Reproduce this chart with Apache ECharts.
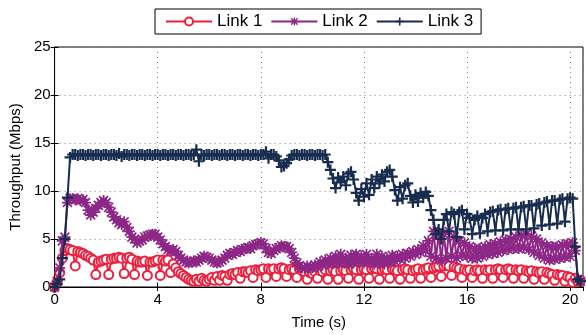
<!DOCTYPE html>
<html>
<head>
<meta charset="utf-8">
<script src="https://cdn.jsdelivr.net/npm/echarts@6/dist/echarts.min.js"></script>
<style>html,body{margin:0;padding:0;background:#fff}#c{width:586px;height:335px}</style>
</head>
<body>
<div id="c"></div>
<script>
// sampling interval of the trace (s)
const sampleStep = 0.1;
const seriesNames = ['Link 1', 'Link 2', 'Link 3'];
const xTicks = [0, 4, 8, 12, 16, 20];
const yTicks = [0, 5, 10, 15, 20, 25];

const link1 = [
0,0.5,1.5,3.0,3.8,4.0,3.9,3.8,2.2,3.7,
3.6,3.5,3.3,3.2,3.0,2.8,1.3,2.6,2.7,2.8,
2.9,1.3,2.9,3.0,3.0,3.1,3.0,1.4,3.0,3.1,
2.9,1.3,2.7,2.6,2.6,2.7,1.2,2.6,2.6,2.7,
2.8,1.2,2.8,2.7,2.8,1.5,2.4,2.0,1.6,1.4,
1.2,1.0,0.8,0.7,0.6,0.8,0.6,0.9,0.7,0.6,
0.8,1.0,0.7,1.1,0.7,1.2,1.1,0.7,1.3,1.4,
1.3,1.5,0.9,1.6,1.6,1.5,1.7,1.0,1.8,1.7,
1.8,1.9,1.0,1.9,1.8,1.9,1.1,1.9,2.0,1.9,
1.1,1.8,1.9,1.8,1.0,1.9,1.7,1.6,0.8,1.5,
1.4,1.6,0.9,1.7,1.6,1.8,0.8,1.7,1.8,1.6,
0.8,1.7,1.8,1.7,0.9,1.8,1.9,1.8,0.8,1.8,
1.9,1.8,0.9,1.9,2.0,1.9,0.8,1.8,1.9,1.8,
0.9,1.9,1.8,1.7,0.8,1.8,1.9,1.8,0.9,1.7,
1.8,1.9,0.9,1.8,1.9,2.0,1.0,2.0,2.1,2.2,
1.1,2.2,2.3,2.2,1.2,2.1,2.0,1.9,1.0,1.8,
1.7,1.8,1.0,1.7,1.8,1.7,0.9,1.8,1.7,1.8,
0.9,1.8,1.9,1.8,1.0,1.8,1.9,1.8,0.9,1.8,
1.7,1.8,0.9,1.7,1.6,1.7,0.8,1.6,1.5,1.6,
0.8,1.5,1.4,1.3,0.7,1.3,1.2,1.2,0.6,1.1,
1.0,0.5,0.9,0.6,0.7
];

const link2 = [
0,0.6,2.0,4.8,5.2,8.8,9.2,9.2,9.1,9.2,
9.0,9.1,8.8,8.0,7.5,7.8,8.2,8.5,8.8,9.0,
8.8,8.3,7.8,7.3,7.0,6.7,6.5,6.8,6.2,5.8,
5.2,5.0,4.6,4.8,4.9,5.2,5.3,5.4,5.5,5.5,
5.2,4.9,4.5,4.2,3.9,3.8,3.9,3.7,3.3,3.0,
2.8,2.6,2.5,2.6,2.7,2.6,2.8,3.0,3.2,3.1,
3.0,2.8,2.6,2.5,2.6,2.8,3.0,3.3,3.5,3.4,
3.6,3.8,3.7,3.9,4.0,4.1,4.0,4.3,4.4,4.5,
4.6,4.5,4.0,3.6,3.5,3.8,4.0,4.1,4.3,4.2,
4.2,4.0,3.6,3.0,2.5,2.2,2.0,1.9,2.2,2.0,
2.0,2.3,2.1,2.6,2.3,2.8,2.4,3.0,2.5,3.2,
2.5,3.4,2.6,3.0,2.4,3.3,2.5,3.4,2.6,3.2,
2.5,3.4,2.6,3.0,2.4,3.4,2.5,3.2,2.4,3.0,
2.6,3.3,2.7,3.2,2.9,3.4,3.0,3.5,3.2,3.7,
3.4,3.9,3.6,4.3,3.8,4.8,3.2,5.8,3.0,5.6,
2.8,5.5,3.0,5.8,3.2,5.2,3.0,4.8,3.3,4.6,
3.2,4.2,3.0,4.0,3.0,4.0,3.2,4.2,3.4,4.4,
3.5,4.5,3.6,4.7,3.8,4.9,3.9,5.0,4.0,5.2,
4.0,5.4,4.1,5.5,3.9,5.3,3.6,5.0,3.3,4.6,
3.0,4.3,2.8,4.2,2.9,4.2,3.0,4.4,3.1,4.5,
3.2,4.6,3.8,0.8,0.6
];

const link3 = [
0,0.3,0.8,3.0,5.0,9.3,13.5,13.8,13.8,13.7,
13.8,13.8,13.7,13.8,13.8,13.7,13.8,13.8,13.7,13.8,
13.8,13.7,13.8,13.8,13.7,13.9,13.6,13.8,13.8,13.7,
13.8,13.8,13.7,13.8,13.8,13.7,13.8,13.8,13.7,13.8,
13.8,13.7,13.8,13.8,13.7,13.8,13.8,13.7,13.8,13.8,
13.7,13.8,13.8,13.7,13.8,14.3,13.1,13.8,13.7,13.8,
13.8,13.7,13.8,13.8,13.7,13.8,13.8,13.7,13.8,13.8,
13.7,13.8,13.8,13.7,13.8,13.8,13.7,13.8,13.8,13.7,
13.8,13.8,14.1,13.4,13.8,13.8,13.6,13.2,12.5,12.6,
12.9,13.3,13.7,13.8,13.8,13.7,13.8,13.8,13.7,13.8,
13.8,13.7,13.8,13.8,13.7,13.8,13.0,12.2,11.3,10.3,
11.4,10.9,11.5,10.6,11.8,12.0,11.2,9.8,9.0,10.2,
9.4,10.8,9.6,11.2,10.3,11.5,10.8,11.7,11.0,12.0,
12.2,11.5,10.1,9.0,10.4,9.2,10.6,10.8,9.5,8.8,
9.6,8.9,9.8,9.3,9.9,9.5,8.0,7.0,5.5,6.0,
5.0,7.0,7.6,5.8,7.8,7.6,5.2,7.8,8.0,6.0,
7.6,7.2,5.5,7.0,7.4,5.6,7.2,7.6,5.8,7.8,
7.9,5.9,8.0,8.1,5.9,8.1,8.2,6.0,8.2,8.3,
6.0,8.3,8.4,6.0,8.5,8.5,6.1,8.6,8.7,6.4,
8.8,8.9,6.5,9.0,9.0,6.6,9.1,9.2,6.8,9.2,
9.3,9.2,4.2,0.8,0.6
];

const colors = ['#ee1f3d', '#8d2786', '#172c4f'];
const plusPath = 'path://M4,0 H6 V4 H10 V6 H6 V10 H4 V6 H0 V4 H4 Z';
const starPath = 'path://M4.2,0 H5.8 V10 H4.2 Z M0,4.2 H10 V5.8 H0 Z M1.5,0.4 L9.6,8.5 L8.5,9.6 L0.4,1.5 Z M8.5,0.4 L9.6,1.5 L1.5,9.6 L0.4,8.5 Z';

function pairs(vals) {
  return vals.map((v, i) => [Math.round(i * sampleStep * 10) / 10, v]);
}

const chart = echarts.init(document.getElementById('c'), null, {renderer: 'canvas'});
const font = 'Liberation Sans, Arial, Helvetica, sans-serif';

const option = {
  animation: false,
  backgroundColor: '#fff',
  textStyle: {fontFamily: font},
  color: colors,
  grid: {left: 51, right: 3, top: 47, bottom: 48, show: true, borderColor: '#000', borderWidth: 1, backgroundColor: 'transparent'},
  legend: {
    top: 9, left: 155,
    data: seriesNames,
    borderColor: '#000', borderWidth: 1, backgroundColor: '#fff',
    padding: [4, 8, 4, 10],
    itemGap: 8, itemWidth: 46, itemHeight: 10,
    textStyle: {fontSize: 17, color: '#000', fontFamily: font}
  },
  xAxis: [{
    type: 'value', min: 0, max: 20.5, interval: 4,
    name: 'Time (s)', nameLocation: 'middle', nameGap: 28,
    nameTextStyle: {fontSize: 15, color: '#000', fontFamily: font},
    axisLine: {show: true, onZero: false, lineStyle: {color: '#000', width: 1}},
    axisTick: {show: true, inside: true, length: 4, lineStyle: {color: '#000'}},
    axisLabel: {color: '#000', fontSize: 15, margin: 5, showMaxLabel: false,
      formatter: v => xTicks.indexOf(v) >= 0 ? String(v) : ''},
    splitLine: {show: true, lineStyle: {color: '#888', type: [1, 4], width: 1}}
  }, {
    type: 'value', min: 0, max: 20.5, interval: 4, position: 'top',
    axisLine: {show: false},
    axisTick: {show: true, inside: true, length: 4, lineStyle: {color: '#000'}},
    axisLabel: {show: false}, splitLine: {show: false}
  }],
  yAxis: [{
    type: 'value', min: 0, max: 25, interval: 5,
    name: 'Throughput (Mbps)', nameLocation: 'middle', nameGap: 27,
    nameTextStyle: {fontSize: 15, color: '#000', fontFamily: font},
    axisLine: {show: true, onZero: false, lineStyle: {color: '#000', width: 1}},
    axisTick: {show: true, inside: true, length: 4, lineStyle: {color: '#000'}},
    axisLabel: {color: '#000', fontSize: 15, margin: 4,
      formatter: v => yTicks.indexOf(v) >= 0 ? String(v) : ''},
    splitLine: {show: true, lineStyle: {color: '#888', type: [1, 4], width: 1}}
  }, {
    type: 'value', min: 0, max: 25, interval: 5, position: 'right',
    axisLine: {show: false},
    axisTick: {show: true, inside: true, length: 4, lineStyle: {color: '#000'}},
    axisLabel: {show: false}, splitLine: {show: false}
  }],
  series: [
    {
      name: seriesNames[0], type: 'line', data: pairs(link1),
      symbol: 'emptyCircle', symbolSize: 9, showAllSymbol: true,
      lineStyle: {width: 2, color: colors[0]},
      itemStyle: {color: colors[0], borderColor: colors[0], borderWidth: 1.8},
      z: 2
    },
    {
      name: seriesNames[1], type: 'line', data: pairs(link2),
      symbol: starPath, symbolSize: 11, showAllSymbol: true,
      lineStyle: {width: 2, color: colors[1]},
      itemStyle: {color: colors[1], borderWidth: 0},
      z: 3
    },
    {
      name: seriesNames[2], type: 'line', data: pairs(link3),
      symbol: plusPath, symbolSize: 11, showAllSymbol: true,
      lineStyle: {width: 2, color: colors[2]},
      itemStyle: {color: colors[2], borderWidth: 0},
      z: 4
    }
  ]
};
chart.setOption(option);
</script>
</body>
</html>
